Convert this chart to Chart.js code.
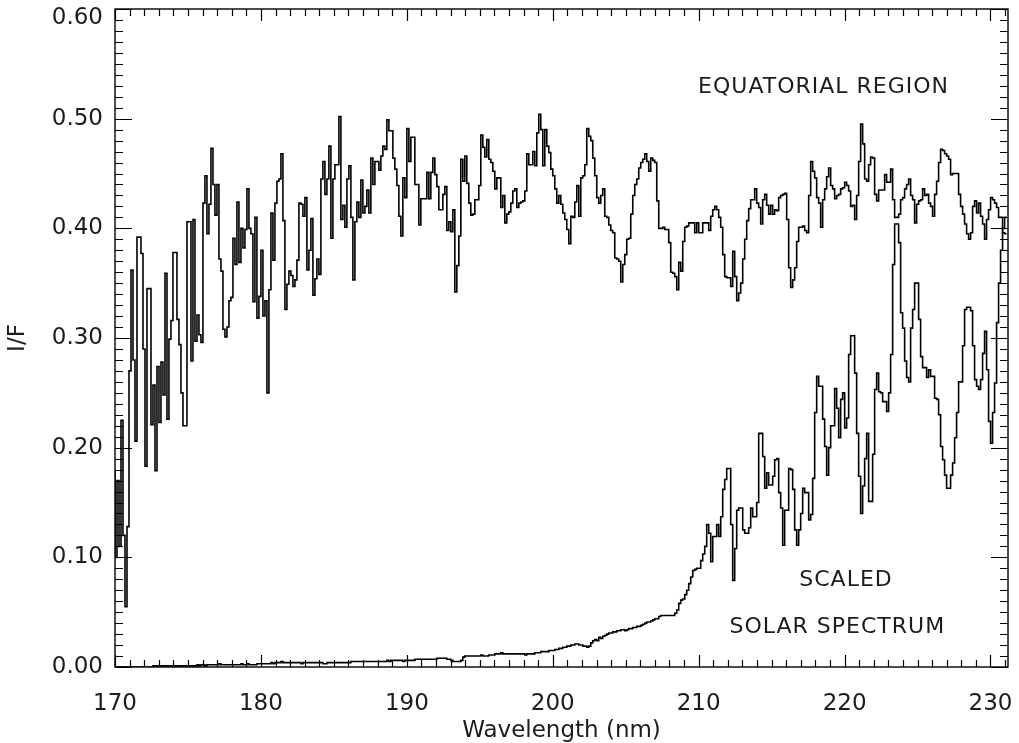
<!DOCTYPE html>
<html><head><meta charset="utf-8">
<script src="https://cdn.jsdelivr.net/npm/chart.js@4/dist/chart.umd.min.js"></script>
<style>html,body{margin:0;padding:0;background:#fff;}#wrap{width:1019px;height:743px;}</style>
</head><body><div id="wrap"><canvas id="c" width="1019" height="743"></canvas></div>
<script>
// ---------- data ----------
const wavelengthStart = 170;      // nm, first bin
const wavelengthStep = 0.137;     // nm per bin
const equatorialIF = [
0.18,0.10,0.17,0.11,0.225,0.12,0.055,0.128,
0.27,0.362,0.28,0.206,0.392,0.392,0.377,0.29,0.183,0.345,0.345,0.221,0.257,0.179,0.274,0.223,0.278,0.248,0.359,0.226,0.299,0.316,0.378,0.378,0.317,0.294,0.25,0.22,0.22,0.406,0.406,0.279,0.408,
0.297,0.321,0.303,0.296,0.423,0.448,0.395,0.422,0.473,0.44,0.412,0.44,0.372,0.361,0.308,0.301,0.31,0.334,0.337,0.391,0.367,0.424,0.369,0.40,0.382,0.399,0.436,0.40,0.395,0.333,0.41,0.318,0.338,0.38,0.32,0.334,0.25,0.344,0.414,0.371,0.423,0.443,0.445,0.468,
0.407,0.326,0.349,0.361,0.357,0.347,0.353,0.371,0.423,0.422,0.411,0.428,0.362,0.38,0.409,0.339,0.354,0.372,0.358,0.445,0.461,0.431,0.445,0.475,0.391,0.445,0.458,0.458,0.502,0.408,0.421,0.401,0.445,0.457,0.41,0.353,0.406,0.424,0.41,0.444,0.414,0.42,0.435,0.414,0.464,0.44,0.461,0.461,0.453,0.466,0.475,0.472,0.499,0.489,0.489,0.464,0.454,0.439,0.411,0.393,0.446,0.428,0.491,0.461,0.483,
0.483,0.44,0.44,0.403,0.427,0.427,0.427,0.451,0.427,0.451,0.464,0.449,0.438,0.417,0.417,0.431,0.438,0.398,0.406,0.397,0.417,0.342,0.366,
0.393,0.463,0.443,0.466,0.441,0.423,0.412,0.413,0.426,0.426,0.439,0.485,0.474,0.465,0.481,0.463,0.46,0.452,0.436,0.446,
0.446,0.419,0.43,0.405,0.413,0.415,0.423,0.434,0.436,0.419,0.423,0.424,0.425,0.434,0.468,0.458,0.458,0.47,0.457,0.487,
0.504,0.49,0.457,0.49,0.475,0.469,0.454,0.448,0.436,0.423,0.43,0.422,0.414,0.408,0.399,0.386,0.411,0.41,0.424,0.439,
0.411,0.446,0.448,0.458,0.491,0.484,0.48,0.464,0.448,0.428,0.423,0.43,0.436,0.411,0.41,0.403,0.398,0.396,0.373,0.372,
0.37,0.351,0.367,0.376,0.39,0.391,0.413,0.43,0.44,0.445,0.455,0.46,0.463,0.468,0.461,0.452,0.464,0.462,0.46,0.425,
0.40,0.40,0.401,0.399,0.399,0.387,0.36,0.359,0.356,0.344,0.369,0.361,0.388,0.401,0.402,0.405,0.405,0.405,0.396,0.405,
0.396,0.396,
0.405,0.405,0.405,0.398,0.411,0.417,0.42,0.417,0.41,0.401,
0.376,0.356,0.355,0.355,0.347,0.379,0.356,0.334,0.341,0.35,
0.372,0.39,0.407,0.418,0.426,0.426,0.436,0.423,0.419,0.404,
0.426,0.431,0.421,0.413,0.421,0.413,0.417,0.416,0.428,0.43,
0.431,0.432,0.408,0.364,0.346,0.353,0.364,0.388,0.401,0.401,
0.402,0.398,0.396,0.43,0.461,0.452,0.446,0.428,0.423,0.401,
0.426,0.436,0.447,0.455,0.439,0.436,0.427,0.43,0.431,0.436,
0.437,0.442,0.439,0.434,0.42,0.421,0.408,0.43,0.461,0.495,
0.477,0.445,0.443,0.458,0.465,0.464,0.431,0.425,0.435,0.435,
0.435,0.449,0.442,0.442,0.454,0.426,0.41,0.41,0.413,0.426,
0.428,0.436,0.44,0.445,0.43,0.426,0.405,0.422,0.425,0.426,
0.436,0.43,0.431,0.423,0.42,0.411,0.431,0.443,0.46,0.472,
0.471,0.468,0.466,0.463,0.449,0.45,0.45,0.45,0.431,0.42,
0.413,0.404,0.395,0.39,0.396,0.42,0.425,0.414,0.423,0.411,
0.404,0.39,0.408,0.417,0.428,0.426,0.423,0.419,0.41,0.41,
0.396,0.395
];
const solarScaled = [
0,0,0,0,0,0,0,0,0,0,0,0,0,0,0,0,0,0,0,0,
0.001,0.001,0.001,0.001,0.001,0.001,0.001,0.001,0.001,0.001,0.001,0.001,0.001,0.001,0.001,0.001,0.001,0.001,0.001,0.001,
0.001,0.001,0.002,0.001,0.002,0.002,0.001,0.002,0.002,0.002,0.002,0.002,0.002,0.003,0.002,0.002,
0.002,0.002,0.002,0.002,0.002,0.002,0.002,0.002,0.003,0.002,0.002,0.003,0.002,0.002,0.002,0.002,0.003,
0.003,0.003,0.003,0.003,0.003,0.003,0.004,0.003,0.004,0.004,0.004,0.005,0.004,
0.004,0.004,0.004,0.004,0.004,0.004,0.004,0.004,0.003,0.004,0.004,0.004,0.004,0.004,0.004,0.004,0.004,0.004,0.004,0.003,0.003,0.004,0.004,0.004,0.004,0.004,0.004,0.004,0.004,0.004,
0.004,0.004,0.004,0.005,0.005,0.005,0.005,0.005,0.005,0.005,0.005,0.005,0.005,0.005,0.005,0.005,0.005,0.005,0.005,0.005,0.005,0.006,0.005,0.006,0.006,0.006,0.006,0.006,0.006,0.005,0.006,
0.006,0.006,0.006,0.006,0.007,0.007,0.007,0.007,0.007,0.007,0.007,0.007,0.007,0.007,0.007,0.008,0.008,0.008,0.008,0.008,0.007,0.007,
0.006,0.005,0.005,0.005,0.005,0.006,
0.009,0.010,0.010,0.010,0.010,0.010,0.010,
0.010,0.010,0.011,0.010,0.010,0.010,0.011,0.011,0.011,0.012,0.012,0.012,0.013,0.012,0.012,0.012,0.012,0.012,0.012,0.012,0.012,0.012,0.012,0.012,0.011,0.012,0.012,0.012,0.012,
0.013,0.013,0.013,0.014,0.014,0.014,0.014,0.015,0.015,0.015,0.016,0.016,
0.017,0.017,0.018,0.018,0.019,0.019,0.020,0.020,0.021,0.021,
0.020,0.020,0.019,0.019,0.018,0.019,0.022,0.024,0.025,0.024,
0.027,0.026,0.028,0.029,0.030,0.031,0.031,0.032,0.032,0.033,
0.033,0.034,0.034,0.033,0.034,0.035,0.035,0.036,0.036,0.037,
0.037,0.038,0.039,0.040,0.041,0.041,0.042,0.043,0.044,0.044,
0.046,0.047,0.047,0.047,0.047,0.047,0.047,0.047,0.049,0.052,
0.058,0.061,0.062,0.066,0.070,0.076,0.082,0.088,0.089,0.090,
0.090,0.097,0.103,0.110,0.130,0.122,0.096,0.119,0.119,0.130,
0.119,0.137,0.162,0.171,0.181,0.181,0.130,0.079,0.108,0.143,
0.145,0.145,0.125,0.122,0.122,0.127,0.145,0.137,0.137,0.150,
0.213,0.213,0.192,0.163,0.177,0.166,0.166,0.174,0.189,0.19,
0.159,0.145,0.111,0.143,0.143,0.181,0.18,0.162,0.125,0.111,
0.125,0.14,0.163,0.159,0.159,0.134,0.139,0.172,0.232,0.265,
0.256,0.256,0.226,0.201,0.175,0.2,0.22,0.22,0.254,0.236,
0.209,0.244,0.25,0.218,0.227,0.285,0.302,0.302,0.268,0.213,
0.174,0.14,0.165,0.19,0.213,0.151,0.151,0.194,0.253,0.268,
0.251,0.25,0.242,0.242,0.233,0.25,0.285,0.367,0.404,0.404,
0.387,0.323,0.309,0.279,0.264,0.26,0.309,0.326,0.35,0.35,
0.317,0.283,0.273,0.273,0.264,0.271,0.265,0.265,0.245,0.244,
0.23,0.201,0.189,0.175,0.163,0.163,0.175,0.186,0.209,0.232,
0.26,0.26,0.293,0.326,0.328,0.328,0.325,0.293,0.262,0.256,
0.253,0.262,0.286,0.306,0.271,0.224,0.204,0.232,0.259,0.314,
0.35,0.38,0.40,0.41
];
const xTickValues = [170, 180, 190, 200, 210, 220, 230];
const yTickValues = [0, 0.1, 0.2, 0.3, 0.4, 0.5, 0.6];
const yTickLabels = ['0.00', '0.10', '0.20', '0.30', '0.40', '0.50', '0.60'];
const noteTexts = ['EQUATORIAL REGION', 'SCALED', 'SOLAR SPECTRUM'];
const noteWavelengths = [218.56, 220.1, 219.5];
const noteValues = [0.529, 0.0795, 0.0365];

// ---------- chart ----------
const FONT = 'DejaVu Sans';
const INK = '#1c1c1c';
function toPoints(values) {
  return values.map((v, i) => ({ x: wavelengthStart + i * wavelengthStep, y: v }));
}
function noPad(s) { s.paddingLeft = 0; s.paddingRight = 0; s.paddingTop = 0; s.paddingBottom = 0; }
const topIndex = yTickValues.length - 1;

const frameAndTicks = {
  id: 'frameAndTicks',
  afterDatasetsDraw(chart) {
    const { ctx, chartArea: a, scales: { x, y } } = chart;
    ctx.save();
    ctx.strokeStyle = '#000';
    ctx.lineWidth = 1.4;
    ctx.strokeRect(a.left, a.top, a.right - a.left, a.bottom - a.top);
    ctx.lineWidth = 1.2;
    ctx.beginPath();
    for (let w = Math.ceil(x.min); w <= x.max; w += 1) {
      const px = Math.round(x.getPixelForValue(w)) + 0.5;
      const len = (w % 10 === 0) ? 12 : 7;
      ctx.moveTo(px, a.bottom); ctx.lineTo(px, a.bottom - len);
      ctx.moveTo(px, a.top); ctx.lineTo(px, a.top + len);
    }
    for (let k = 0; k <= 60; k++) {
      const py = Math.round(y.getPixelForValue(k / 100)) + 0.5;
      const len = (k % 10 === 0) ? 17 : 8;
      ctx.moveTo(a.left, py); ctx.lineTo(a.left + len, py);
      ctx.moveTo(a.right, py); ctx.lineTo(a.right - len, py);
    }
    ctx.stroke();
    ctx.fillStyle = INK;
    ctx.font = '23px "' + FONT + '"';
    ctx.textAlign = 'right';
    ctx.textBaseline = 'middle';
    ctx.fillText(yTickLabels[topIndex], a.left - 12, y.getPixelForValue(yTickValues[topIndex]) + 9);
    ctx.font = '22px "' + FONT + '"';
    if ('letterSpacing' in ctx) ctx.letterSpacing = '1px';
    ctx.textAlign = 'center';
    noteTexts.forEach((t, i) => {
      ctx.fillText(t, x.getPixelForValue(noteWavelengths[i]), y.getPixelForValue(noteValues[i]));
    });
    ctx.restore();
  }
};

new Chart(document.getElementById('c'), {
  type: 'line',
  data: {
    datasets: [
      { label: 'Equatorial region', data: toPoints(equatorialIF), borderColor: '#000', borderWidth: 1.6, stepped: 'after', pointRadius: 0, fill: false },
      { label: 'Scaled solar spectrum', data: toPoints(solarScaled), borderColor: '#000', borderWidth: 1.6, stepped: 'after', pointRadius: 0, fill: false }
    ]
  },
  options: {
    responsive: false,
    animation: false,
    devicePixelRatio: 1,
    layout: { padding: { left: 0, right: 11, top: 9, bottom: 0 } },
    plugins: { legend: { display: false }, tooltip: { enabled: false } },
    scales: {
      x: {
        type: 'linear', min: 170, max: 231.2,
        grid: { display: false, drawTicks: false },
        border: { display: false },
        afterBuildTicks: (s) => { s.ticks = xTickValues.map(v => ({ value: v })); },
        afterFit: (s) => { s.height = 76; noPad(s); },
        ticks: { autoSkip: false, maxRotation: 0, padding: 23, color: INK, font: { family: FONT, size: 23 }, callback: (v) => String(v) },
        title: { display: true, text: 'Wavelength (nm)', color: INK, font: { family: FONT, size: 23, lineHeight: 1.0 }, padding: { top: 0, bottom: 0 } }
      },
      y: {
        type: 'linear', min: 0, max: 0.6,
        grid: { display: false, drawTicks: false },
        border: { display: false },
        afterBuildTicks: (s) => { s.ticks = yTickValues.map(v => ({ value: v })); },
        afterFit: (s) => { s.width = 115; noPad(s); },
        ticks: { autoSkip: false, padding: 12, color: INK, font: { family: FONT, size: 23 },
                 callback: (v) => { const i = yTickValues.findIndex(t => Math.abs(t - v) < 1e-9); return (i >= 0 && i !== topIndex) ? yTickLabels[i] : ''; } },
        title: { display: true, text: 'I/F', color: INK, font: { family: FONT, size: 23 }, padding: { top: 4, bottom: 0 } }
      }
    }
  },
  plugins: [frameAndTicks]
});
</script></body></html>
